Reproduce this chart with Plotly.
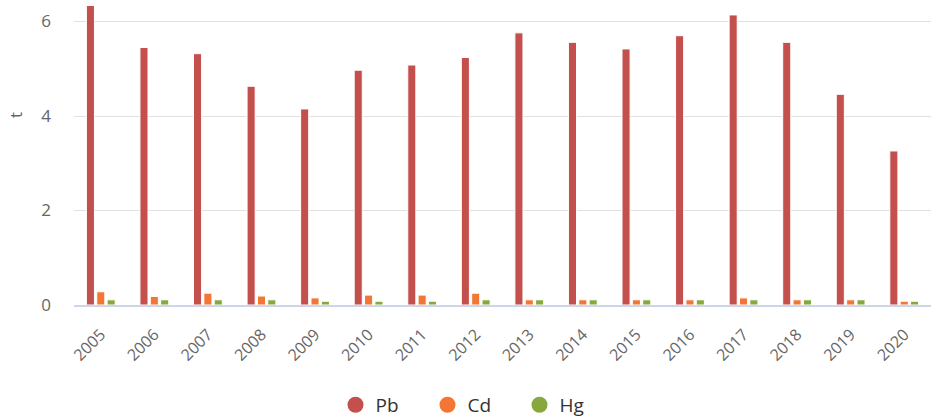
import plotly.graph_objects as go

years = [str(y) for y in range(2005, 2021)]
pb = [6.34, 5.45, 5.32, 4.63, 4.15, 4.97, 5.08, 5.24, 5.76, 5.56, 5.42, 5.70, 6.14, 5.56, 4.46, 3.26]
cd = [0.28, 0.18, 0.25, 0.19, 0.15, 0.21, 0.21, 0.25, 0.11, 0.11, 0.11, 0.11, 0.15, 0.11, 0.11, 0.08]
hg = [0.11, 0.11, 0.11, 0.11, 0.08, 0.08, 0.08, 0.11, 0.11, 0.11, 0.11, 0.11, 0.11, 0.11, 0.11, 0.08]

series = [("Pb", pb, "#c4504e"), ("Cd", cd, "#f47634"), ("Hg", hg, "#86a83c")]

fig = go.Figure()
for name, vals, col in series:
    fig.add_trace(go.Bar(x=years, y=vals, name=name, marker=dict(color=col, line=dict(color="white", width=1)),
                         showlegend=False))
for name, vals, col in series:
    fig.add_trace(go.Scatter(x=[None], y=[None], mode="markers", name=name,
                             marker=dict(color=col, size=19, symbol="circle")))

fig.update_layout(
    width=931, height=418,
    margin=dict(l=74, r=0, t=5, b=113, autoexpand=False),
    paper_bgcolor="white", plot_bgcolor="white",
    font=dict(family="Open Sans, sans-serif", color="#666666", size=16),
    barmode="group", bargap=0.42, bargroupgap=0.22,
    showlegend=True,
    legend=dict(orientation="h", x=0.5 - 29 / 857, xanchor="center", y=-0.333, yanchor="middle",
                font=dict(size=19, color="#333333"), entrywidth=47, entrywidthmode="pixels"),
    xaxis=dict(tickangle=-45, showline=True, linecolor="#ccd6eb", linewidth=2, showgrid=False,
               ticks="", automargin=False, ticklabelstandoff=12,
               tickfont=dict(size=16, color="#666666")),
    yaxis=dict(range=[0, 6.35], tickvals=[0, 2, 4, 6], gridcolor="#e0e0e0", gridwidth=1,
               zeroline=False, showline=False, automargin=False, ticklabelstandoff=22,
               tickfont=dict(size=17, color="#666666")),
    annotations=[dict(text="t", textangle=-90, xref="paper", yref="paper",
                      x=(15 - 74) / 857, y=(305 - 115) / 300, xanchor="center", yanchor="middle",
                      showarrow=False, font=dict(size=17, color="#666666"))],
)

fig.write_html("out.html", config={"displayModeBar": False},
               post_script="document.body.style.margin='0';document.body.style.overflow='hidden';")
